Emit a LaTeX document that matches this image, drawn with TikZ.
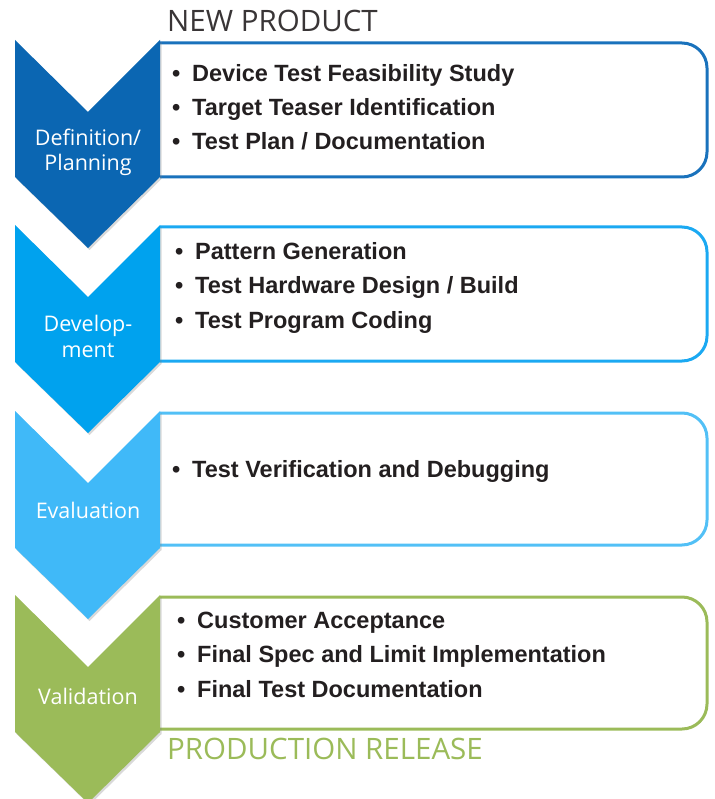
\documentclass[tikz,border=0pt]{standalone}
\usepackage{fontspec}
\setmainfont{Open Sans}
\newfontfamily\itemfont{Liberation Sans}
\usetikzlibrary{shadows}
\definecolor{cA}{HTML}{0B66B2}
\definecolor{cB}{HTML}{00A2EE}
\definecolor{cC}{HTML}{40B9F8}
\definecolor{cD}{HTML}{9BBB59}
\definecolor{bA}{HTML}{1A72BC}
\definecolor{bB}{HTML}{1BA9F2}
\definecolor{bC}{HTML}{52C0F6}
\definecolor{bD}{HTML}{9BBB59}
\definecolor{ink}{HTML}{231F20}
\tikzset{
  boxline/.style={line width=3pt, rounded corners=25pt},
  chev/.style={drop shadow={shadow xshift=1.5pt, shadow yshift=-2pt, opacity=0.3}},
  item/.style={anchor=base west, inner sep=0pt, text=ink, font=\itemfont\bfseries\fontsize{23.5}{27}\selectfont},
  lab/.style={anchor=base, inner sep=0pt, text=white, font=\fontsize{21.5}{25}\selectfont},
  head/.style={anchor=base west, inner sep=0pt, font=\fontsize{29.5}{33}\selectfont}
}
\newcommand{\bul}{\makebox[20pt][l]{•}}
\begin{document}
\begin{tikzpicture}[x=1pt,y=-1pt]
\useasboundingbox (0,0) rectangle (714,799);
% boxes
\draw[boxline, bA] (160,43) -- (707,43) -- (707,177) -- (160,177);
\draw[boxline, bB] (160,227) -- (707,227) -- (707,361) -- (160,361);
\draw[boxline, bC] (160,413) -- (707,413) -- (707,545) -- (160,545);
\draw[boxline, bD] (160,597) -- (707,597) -- (707,729) -- (160,729);
% chevrons
\foreach \t/\c in {40/cA, 225/cB, 411/cC, 595/cD}{
  \fill[chev, \c] (15,\t) -- (88,\t+72) -- (160,\t) -- (160,\t+137) -- (88,\t+208) -- (15,\t+137) -- cycle;
}
% headings
\node[head, text=ink!90] (np) at (167,32) {NEW PRODUCT};
\node[head, text=cD] (pr) at (167,759) {PRODUCTION RELEASE};
% chevron labels
\node[lab] (l1a) at (88,146) {Definition/};
\node[lab] (l1b) at (88,171) {Planning};
\node[lab] (l2a) at (88,331) {Develop-};
\node[lab] (l2b) at (88,357) {ment};
\node[lab] (l3) at (88,518) {Evaluation};
\node[lab] (l4) at (88,704) {Validation};
% items
\node[item] (i1a) at (172,82) {\bul Device Test Feasibility Study};
\node[item] (i1b) at (172,116) {\bul Target Teaser Identification};
\node[item] (i1c) at (172,150) {\bul Test Plan / Documentation};
\node[item] (i2a) at (175,260) {\bul Pattern Generation};
\node[item] (i2b) at (175,293) {\bul Test Hardware Design / Build};
\node[item] (i2c) at (175,328) {\bul Test Program Coding};
\node[item] (i3a) at (172,477) {\bul Test Verification and Debugging};
\node[item] (i4a) at (177,628) {\bul Customer Acceptance};
\node[item] (i4b) at (177,662) {\bul Final Spec and Limit Implementation};
\node[item] (i4c) at (177,697) {\bul Final Test Documentation};
\end{tikzpicture}
\end{document}
